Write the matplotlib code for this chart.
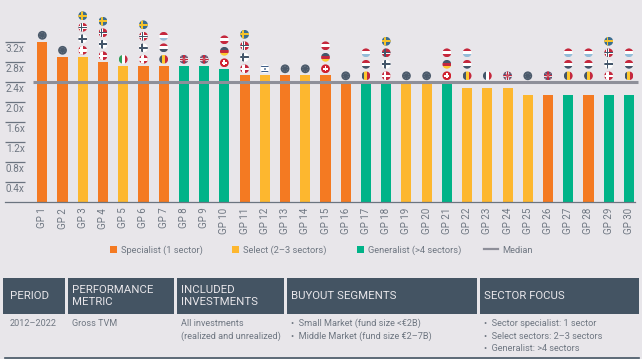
import matplotlib
matplotlib.use("Agg")
import matplotlib.pyplot as plt
from matplotlib.lines import Line2D
from matplotlib.patches import Circle, Patch, Rectangle

plt.rcParams["font.family"] = ["Roboto", "DejaVu Sans"]

W, H = 642, 359
BG = "#e8e6ea"
SLATE = "#445463"
TXT = "#6f7782"
COL = {"S": "#f47a22", "T": "#fdb72f", "G": "#00b388"}

gps = [f"GP {i}" for i in range(1, 31)]
values = [3.2, 2.9, 2.9, 2.79, 2.72, 2.72, 2.72, 2.72, 2.72, 2.65,
          2.53, 2.53, 2.53, 2.53, 2.53, 2.39, 2.39, 2.39, 2.39, 2.39,
          2.39, 2.27, 2.27, 2.27, 2.13, 2.13, 2.13, 2.13, 2.13, 2.13]
sectors = list("SSTSTSSGGGSTSTSSGGTTGTTTTSGSGG")
median = 2.39
yticks = [0.4, 0.8, 1.2, 1.6, 2.0, 2.4, 2.8, 3.2]

NORDIC = ["DK", "FI", "NO", "SE"]
BENELUX = ["BE", "NL", "LU"]
DACH = ["CH", "DE", "AT"]
flags = [["EU"], ["EU"], NORDIC, NORDIC, ["IT"], NORDIC, BENELUX, ["UK"], ["UK"], DACH,
         NORDIC, ["IL"], ["EU"], ["EU"], DACH, ["EU"], BENELUX, NORDIC, ["EU"], ["EU"],
         DACH, BENELUX, ["FR"], ["UK"], ["EU"], ["UK"], BENELUX, BENELUX, NORDIC, BENELUX]

legend_labels = ["Specialist (1 sector)", "Select (2–3 sectors)", "Generalist (>4 sectors)", "Median"]

headers = ["PERIOD", "PERFORMANCE\nMETRIC", "INCLUDED\nINVESTMENTS", "BUYOUT SEGMENTS", "SECTOR FOCUS"]
body = [["2012–2022"], ["Gross TVM"], ["All investments", "(realized and unrealized)"],
        ["•  Small Market (fund size <€2B)", "•  Middle Market (fund size €2–7B)"],
        ["•  Sector specialist: 1 sector", "•  Select sectors: 2–3 sectors", "•  Generalist: >4 sectors"]]
header_x = [(3, 65), (68, 174), (177, 284), (287, 477), (480, 639)]

RED, DARK, LIGHT = "#c5283d", "#44566a", "#93bcd8"
STRIPES = {"NL": [RED, "white", DARK], "LU": [RED, "white", LIGHT], "AT": [RED, "white", RED],
           "DE": [DARK, RED, "#fdc82f"]}
VSTRIPES = {"IT": ["#2f9e5b", "white", RED], "BE": [DARK, "#fdc82f", RED], "FR": [DARK, "white", RED]}
CROSS = {"DK": (RED, "white", None), "FI": ("white", DARK, None), "NO": (RED, "white", DARK),
         "SE": ("#3b6d8f", "#f5c32c", None)}


def draw_flag(ov, code, cx, cy, r=4.4):
    clip = Circle((cx, cy), r, transform=ov.transData)

    def rect(x, y, w, h, c):
        p = Rectangle((x, y), w, h, fc=c, ec="none", zorder=6)
        ov.add_patch(p)
        p.set_clip_path(clip)

    d = 2 * r
    if code == "EU":
        ov.add_patch(Circle((cx, cy), r, fc="#4b5a6b", ec="none", zorder=6))
        ov.add_patch(Circle((cx, cy), r * 0.6, fc="none", ec="#76818d", lw=0.6, ls=":", zorder=7))
    elif code in STRIPES:
        for i, c in enumerate(STRIPES[code]):
            rect(cx - r, cy - r + i * d / 3, d, d / 3, c)
    elif code in VSTRIPES:
        for i, c in enumerate(VSTRIPES[code]):
            rect(cx - r + i * d / 3, cy - r, d / 3, d, c)
    elif code in CROSS:
        base, arm, inner = CROSS[code]
        rect(cx - r, cy - r, d, d, base)
        t = 2.6 if code == "DK" or inner else 1.9
        rect(cx - r, cy - t / 2, d, t, arm)
        rect(cx - 1.2 - t / 2, cy - r, t, d, arm)
        if inner:
            rect(cx - r, cy - 0.6, d, 1.2, inner)
            rect(cx - 1.8, cy - r, 1.2, d, inner)
    elif code == "CH":
        rect(cx - r, cy - r, d, d, "#d0202e")
        rect(cx - 2.6, cy - 0.9, 5.2, 1.8, "white")
        rect(cx - 0.9, cy - 2.6, 1.8, 5.2, "white")
    elif code == "IL":
        rect(cx - r, cy - r, d, d, "white")
        rect(cx - r, cy - 3.2, d, 1.2, "#3f5f8a")
        rect(cx - r, cy + 2.0, d, 1.2, "#3f5f8a")
        rect(cx - 1, cy - 1, 2, 2, "#7f93ad")
    elif code == "UK":
        rect(cx - r, cy - r, d, d, "#47587a")
        rect(cx - r, cy - 1.3, d, 2.6, "#e8dfe3")
        rect(cx - 1.3, cy - r, 2.6, d, "#e8dfe3")
        rect(cx - r, cy - 0.7, d, 1.4, RED)
        rect(cx - 0.7, cy - r, 1.4, d, RED)
        for sgn in (1, -1):
            ln = Line2D([cx - r, cx + r], [cy - sgn * r, cy + sgn * r], color="#c96a78", lw=0.6, zorder=6)
            ov.add_line(ln)
            ln.set_clip_path(clip)


fig = plt.figure(figsize=(W / 100, H / 100), dpi=100, facecolor=BG)
ax = fig.add_axes([5 / W, 1 - 201.7 / H, 630 / W, 200 / H], facecolor="none")
x = list(range(len(gps)))
ax.bar(x, values, width=0.5, color=[COL[s] for s in sectors], zorder=2)
ax.set_xlim(-1.844, 29.3)
ax.set_ylim(0, 4)
ax.hlines(median, -0.46, 29.45, color="#8e8f99", lw=2.2, zorder=3, clip_on=False)

for s in ("top", "right", "left"):
    ax.spines[s].set_visible(False)
ax.spines["bottom"].set_color("#6b7480")
ax.spines["bottom"].set_linewidth(0.9)

ax.set_xticks(x, gps, rotation=90, fontsize=7, color=TXT)
ax.tick_params(axis="x", length=0, pad=4.3)
ax.set_yticks(yticks, [])
ax.tick_params(axis="y", direction="in", length=14.4, width=0.9, color="#6b7480")
for v in yticks:
    ax.annotate(f"{v:.1f}x", xy=(0, v), xycoords=ax.get_yaxis_transform(), xytext=(1, -7.6),
                textcoords="offset pixels", fontsize=7.2, color=TXT, va="center", ha="left")

# pixel overlay for flags and the table
ov = fig.add_axes([0, 0, 1, 1], facecolor="none")
ov.set_xlim(0, W)
ov.set_ylim(H, 0)
ov.axis("off")

for i, codes in enumerate(flags):
    px, py = ax.transData.transform((i, max(values[i], median)))
    cy0 = H - py / fig.dpi * 100 - 6.4
    cx = px / fig.dpi * 100
    for k, code in enumerate(codes):
        draw_flag(ov, code, cx, cy0 - k * 11.5)

handles = [Patch(fc=COL["S"]), Patch(fc=COL["T"]), Patch(fc=COL["G"]),
           Line2D([], [], color="#8e8f99", lw=1.6)]
leg = fig.legend(handles, legend_labels, ncol=4, loc="center", bbox_to_anchor=(321 / W, 1 - 250 / H),
                 frameon=False, fontsize=6.7, labelcolor=TXT, handlelength=0.75, handleheight=0.75,
                 handletextpad=0.44, columnspacing=3.2)
med_handle = leg.legend_handles[3]
med_y = med_handle.get_ydata()[0]
med_handle.set_data([-5, 5], [med_y, med_y])

for (x0, x1), head, lines in zip(header_x, headers, body):
    ov.add_patch(Rectangle((x0, 278), x1 - x0, 36, fc=SLATE, ec="none"))
    ov.text(x0 + 4 if x0 > 3 else 10, 296, head, color=BG, fontsize=8.2, va="center", ha="left", linespacing=1.25)
    for n, line in enumerate(lines):
        ov.text(x0 + 4 if x0 > 3 else 10, 323.5 + n * 12.6, line, color=TXT, fontsize=6.6, va="center", ha="left")
ov.plot([5, 639], [358, 358], color=SLATE, lw=1.2, clip_on=False)

fig.savefig("out.png", dpi=100, facecolor=BG)
